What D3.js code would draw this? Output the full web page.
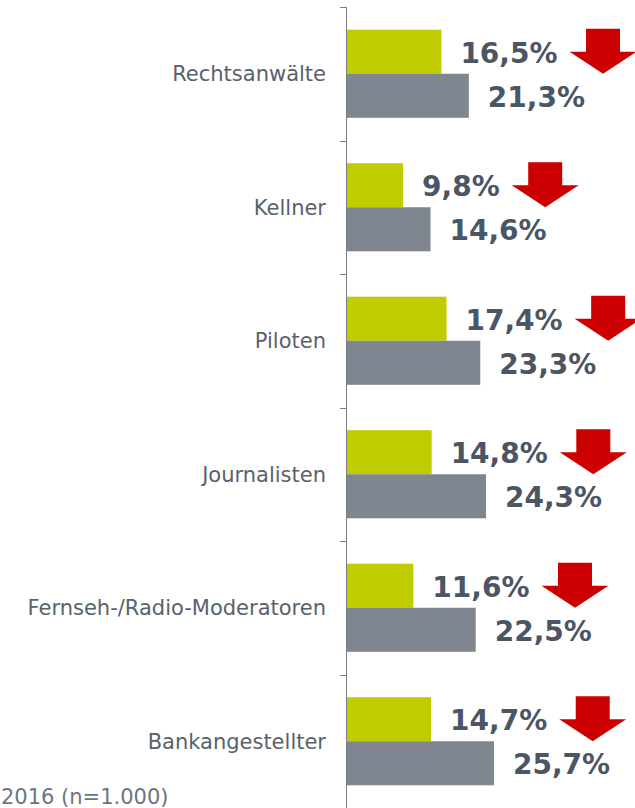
<!DOCTYPE html>
<html>
<head>
<meta charset="utf-8">
<script src="https://cdn.jsdelivr.net/npm/d3@7"></script>
<style>
  body { margin: 0; background: #fff; }
  svg { display: block; }
</style>
</head>
<body>
<div id="chart"></div>
<script>
// data
var categories = ["Rechtsanwälte", "Kellner", "Piloten", "Journalisten", "Fernseh-/Radio-Moderatoren", "Bankangestellter"];
var series = ["2016", "vorher"];
var values2016 = [16.5, 9.8, 17.4, 14.8, 11.6, 14.7];
var valuesBefore = [21.3, 14.6, 23.3, 24.3, 22.5, 25.7];
var footnote = "2016 (n=1.000)";

var W = 635, H = 808;
var colors = { "2016": "#bfcc00", "vorher": "#7f868f" };

var svg = d3.select("#chart")
    .append("svg")
    .attr("width", W)
    .attr("height", H);

var x = d3.scaleLinear().domain([0, 50]).range([347, 633]);

var y0 = d3.scaleBand()
    .domain(categories)
    .range([7, 808])
    .paddingInner(0.34)
    .paddingOuter(0.17);

var y1 = d3.scaleBand()
    .domain(series)
    .range([0, y0.bandwidth()]);

var rows = categories.map(function (c, i) {
    return { cat: c, vals: [values2016[i], valuesBefore[i]] };
});

// axis line with ticks between categories
var step = y0.step();
svg.append("line")
    .attr("x1", 346.5).attr("x2", 346.5)
    .attr("y1", 7).attr("y2", H)
    .attr("stroke", "#7a7f86")
    .attr("stroke-width", 1);

var tickY = d3.range(categories.length + 1).map(function (i) {
    return 7 + i * step;
});
svg.selectAll(".tick")
    .data(tickY)
    .enter().append("line")
    .attr("class", "tick")
    .attr("x1", 340).attr("x2", 346.5)
    .attr("y1", function (d) { return Math.round(d) + 0.5; })
    .attr("y2", function (d) { return Math.round(d) + 0.5; })
    .attr("stroke", "#7a7f86");

var group = svg.selectAll(".row")
    .data(rows)
    .enter().append("g")
    .attr("class", "row")
    .attr("transform", function (d) { return "translate(0," + y0(d.cat) + ")"; });

// category labels
group.append("text")
    .attr("x", 326)
    .attr("y", y0.bandwidth() / 2)
    .attr("dy", "0.35em")
    .attr("text-anchor", "end")
    .style("font-family", "'DejaVu Sans', Verdana, sans-serif")
    .style("font-size", "21px")
    .style("fill", "#58626c")
    .text(function (d) { return d.cat; });

// bars
group.selectAll(".bar")
    .data(function (d) {
        return series.map(function (s, k) { return { s: s, v: d.vals[k] }; });
    })
    .enter().append("rect")
    .attr("class", "bar")
    .attr("x", x(0))
    .attr("y", function (d) { return y1(d.s); })
    .attr("width", function (d) { return x(d.v) - x(0); })
    .attr("height", y1.bandwidth())
    .style("fill", function (d) { return colors[d.s]; });

// value labels
var fmt = function (v) { return v.toFixed(1).replace(".", ",") + "%"; };
group.selectAll(".val")
    .data(function (d) {
        return series.map(function (s, k) { return { s: s, v: d.vals[k] }; });
    })
    .enter().append("text")
    .attr("class", function (d, k) { return "val val" + k; })
    .attr("x", function (d) { return x(d.v) + 19; })
    .attr("y", function (d) { return y1(d.s) + y1.bandwidth() / 2 + 11; })
    .style("font-family", "'DejaVu Sans', Verdana, sans-serif")
    .style("font-weight", "bold")
    .style("font-size", "28px")
    .style("fill", "#4b5664")
    .text(function (d) { return fmt(d.v); });

// red down arrows after the 2016 label
var aw = 67, sw = 34, ah = 45, sh = 23;
group.each(function () {
    var g = d3.select(this);
    var lbl = g.select(".val0").node();
    var x0 = +lbl.getAttribute("x") + lbl.getComputedTextLength() + 12;
    var top = y1("2016") - 1;
    var cx = x0 + aw / 2;
    var pts = [
        [cx - sw / 2, top], [cx + sw / 2, top], [cx + sw / 2, top + sh],
        [x0 + aw, top + sh], [cx, top + ah], [x0, top + sh], [cx - sw / 2, top + sh]
    ];
    g.append("path")
        .attr("d", d3.line()(pts) + "Z")
        .style("fill", "#cc0000");
});

// source note at the bottom edge
svg.append("text")
    .attr("x", 1)
    .attr("y", 804)
    .style("font-family", "'DejaVu Sans', Verdana, sans-serif")
    .style("font-size", "21px")
    .style("fill", "#6b7684")
    .text(footnote);
</script>
</body>
</html>
